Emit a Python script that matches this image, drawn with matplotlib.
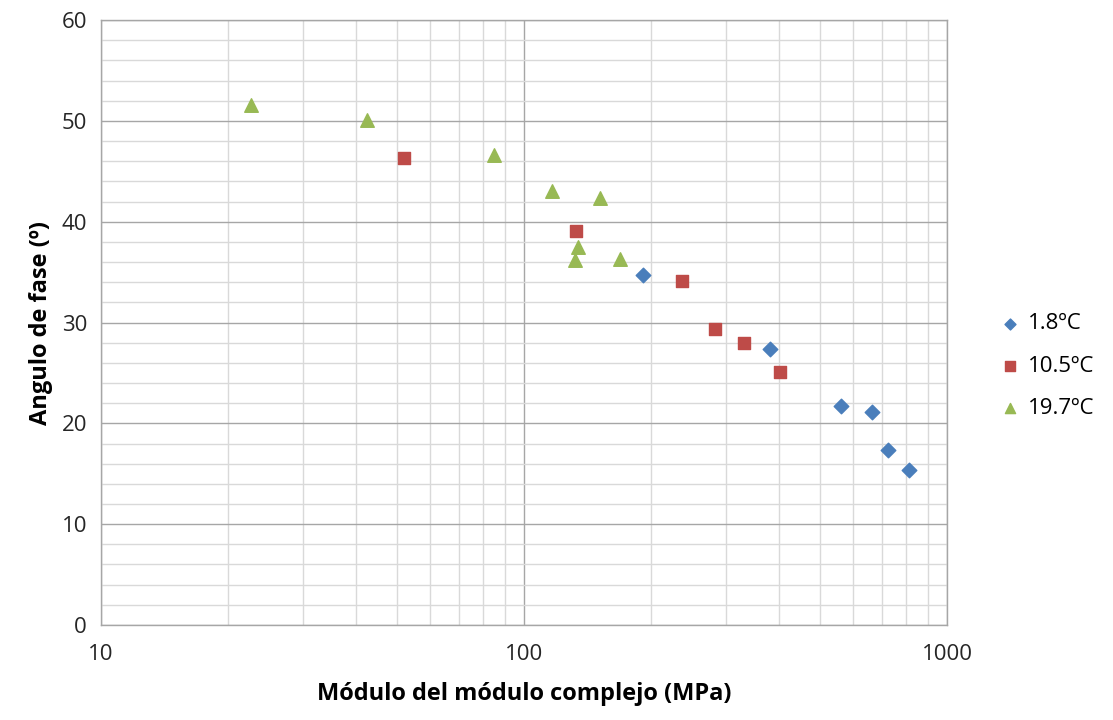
import matplotlib
matplotlib.use("Agg")
import matplotlib.pyplot as plt
from matplotlib.ticker import LogLocator, FixedLocator, NullFormatter, FixedFormatter

series_labels = ["1.8ºC", "10.5ºC", "19.7ºC"]

x_18 = [191, 382, 561, 665, 725, 813]
y_18 = [34.7, 27.4, 21.7, 21.1, 17.4, 15.4]

x_105 = [52, 132.7, 236.6, 283, 331, 403]
y_105 = [46.3, 39.1, 34.1, 29.4, 28.0, 25.1]

x_197 = [22.6, 42.6, 84.9, 116.5, 151, 134, 132, 169]
y_197 = [51.6, 50.1, 46.6, 43.1, 42.4, 37.5, 36.2, 36.3]

x_ticks = [10, 100, 1000]
x_tick_labels = ["10", "100", "1000"]
y_ticks = [0, 10, 20, 30, 40, 50, 60]

plt.rcParams['font.family'] = ['Open Sans', 'DejaVu Sans']

fig = plt.figure(figsize=(11.13, 7.2), dpi=100)
ax = fig.add_axes([0.0907, 0.132, 0.7603, 0.840])

ax.set_xscale('log')
ax.set_xlim(10, 1000)
ax.set_ylim(0, 60)

ax.xaxis.set_major_locator(FixedLocator(x_ticks))
ax.xaxis.set_major_formatter(FixedFormatter(x_tick_labels))
ax.xaxis.set_minor_locator(LogLocator(base=10, subs=range(2, 10)))
ax.xaxis.set_minor_formatter(NullFormatter())
ax.yaxis.set_major_locator(FixedLocator(y_ticks))
ax.yaxis.set_minor_locator(FixedLocator([v for v in range(0, 61, 2) if v % 10]))

ax.grid(which='major', color='#a6a6a6', linewidth=1.0)
ax.grid(which='minor', color='#d9d9d9', linewidth=1.0)
ax.set_axisbelow(True)

for s in ax.spines.values():
    s.set_color('#a6a6a6')
    s.set_linewidth(1.0)

ax.tick_params(which='both', length=0, labelsize=16, colors='#404040', pad=10)
ax.tick_params(axis='x', pad=14)
for lbl in ax.get_xticklabels() + ax.get_yticklabels():
    lbl.set_color('#262626')

ax.scatter(x_18, y_18, marker='D', s=55, color='#4a7ebb', label=series_labels[0], zorder=3)
ax.scatter(x_105, y_105, marker='s', s=85, color='#be4b48', label=series_labels[1], zorder=3)
ax.scatter(x_197, y_197, marker='^', s=95, color='#98b954', label=series_labels[2], zorder=3)

ax.set_xlabel('Módulo del módulo complejo (MPa)', fontsize=17, fontweight='bold', labelpad=12)
ax.set_ylabel('Angulo de fase (º)', fontsize=17, fontweight='bold', labelpad=6)

leg = ax.legend(loc='center left', bbox_to_anchor=(1.035, 0.428), frameon=False,
                fontsize=16, handletextpad=0.2, labelspacing=0.95, markerscale=0.75,
                handlelength=1.2)

fig.savefig('out.png', dpi=100)
